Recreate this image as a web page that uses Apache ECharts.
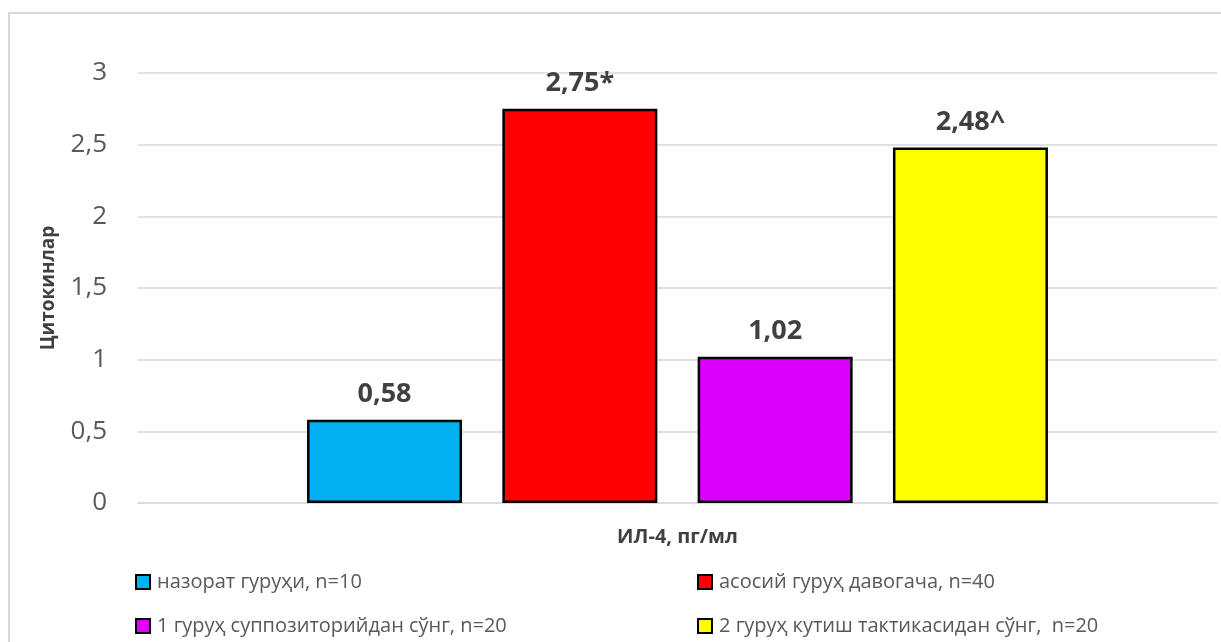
<!DOCTYPE html>
<html>
<head>
<meta charset="utf-8">
<script src="https://cdn.jsdelivr.net/npm/echarts@6/dist/echarts.min.js"></script>
<style>
  html, body { margin: 0; padding: 0; background: #fff; }
  #frame { position: absolute; left: 8px; top: 12px; width: 1230px; height: 660px; border: 2px solid #d9d9d9; box-sizing: border-box; }
  #chart { position: absolute; left: 0; top: 0; width: 1221px; height: 642px; }
</style>
</head>
<body>
<div id="frame"></div>
<div id="chart"></div>
<script>
// Interleukin-4 levels by patient group
const categories = ['ИЛ-4, пг/мл'];
const seriesNames = [
  'назорат гуруҳи, n=10',
  'асосий гуруҳ давогача, n=40',
  '1 гуруҳ суппозиторийдан сўнг, n=20',
  '2 гуруҳ кутиш тактикасидан сўнг,  n=20'
];
const seriesValues = [0.58, 2.75, 1.02, 2.48];
const labelMarks = ['', '*', '', '^'];
const seriesColors = ['#00b0f0', '#ff0000', '#dd00ff', '#ffff00'];
const yTicks = [0, 0.5, 1, 1.5, 2, 2.5, 3];

const FONT = '"Open Sans", "Noto Sans", sans-serif';
const fmt = v => String(v).replace('.', ',');

const chart = echarts.init(document.getElementById('chart'), null, { renderer: 'canvas' });

const series = seriesNames.map((name, i) => ({
  name,
  type: 'bar',
  data: [seriesValues[i]],
  barWidth: 155,
  barGap: '26%',
  itemStyle: { color: seriesColors[i], borderColor: '#000', borderWidth: 2.5 },
  label: {
    show: true,
    position: 'top',
    distance: 12,
    formatter: p => fmt(p.value) + labelMarks[i],
    fontFamily: FONT,
    fontSize: 27,
    fontWeight: 'bold',
    color: '#404040'
  }
}));

const legendText = { fontFamily: FONT, fontSize: 20, color: '#595959', padding: [0, 0, 0, 2] };

chart.setOption({
  animation: false,
  grid: { left: 138, right: 4, top: 73, bottom: 139 },
  xAxis: {
    type: 'category',
    data: categories,
    axisTick: { show: false },
    axisLabel: { show: false },
    axisLine: { lineStyle: { color: '#d9d9d9', width: 1.5 } },
    name: categories[0],
    nameLocation: 'middle',
    nameGap: 24,
    nameTextStyle: { fontFamily: FONT, fontSize: 20, fontWeight: 'bold', color: '#404040', verticalAlign: 'top' }
  },
  yAxis: {
    type: 'value',
    min: yTicks[0],
    max: yTicks[yTicks.length - 1],
    interval: 0.5,
    axisLine: { show: false },
    axisTick: { show: false },
    splitLine: { lineStyle: { color: '#d9d9d9', width: 1.5 } },
    axisLabel: {
      margin: 31,
      fontFamily: FONT,
      fontSize: 26,
      color: '#595959',
      formatter: v => fmt(v)
    },
    name: 'Цитокинлар',
    nameLocation: 'middle',
    nameGap: 80,
    nameRotate: 90,
    nameTextStyle: { fontFamily: FONT, fontSize: 19, fontWeight: 'bold', color: '#404040' }
  },
  legend: [
    {
      data: [seriesNames[0], seriesNames[2]],
      orient: 'vertical',
      left: 130,
      top: 567,
      itemWidth: 14,
      itemHeight: 14,
      itemGap: 24,
      icon: 'rect',
      textStyle: legendText
    },
    {
      data: [seriesNames[1], seriesNames[3]],
      orient: 'vertical',
      left: 692,
      top: 567,
      itemWidth: 14,
      itemHeight: 14,
      itemGap: 24,
      icon: 'rect',
      textStyle: legendText
    }
  ],
  series
});
</script>
</body>
</html>
